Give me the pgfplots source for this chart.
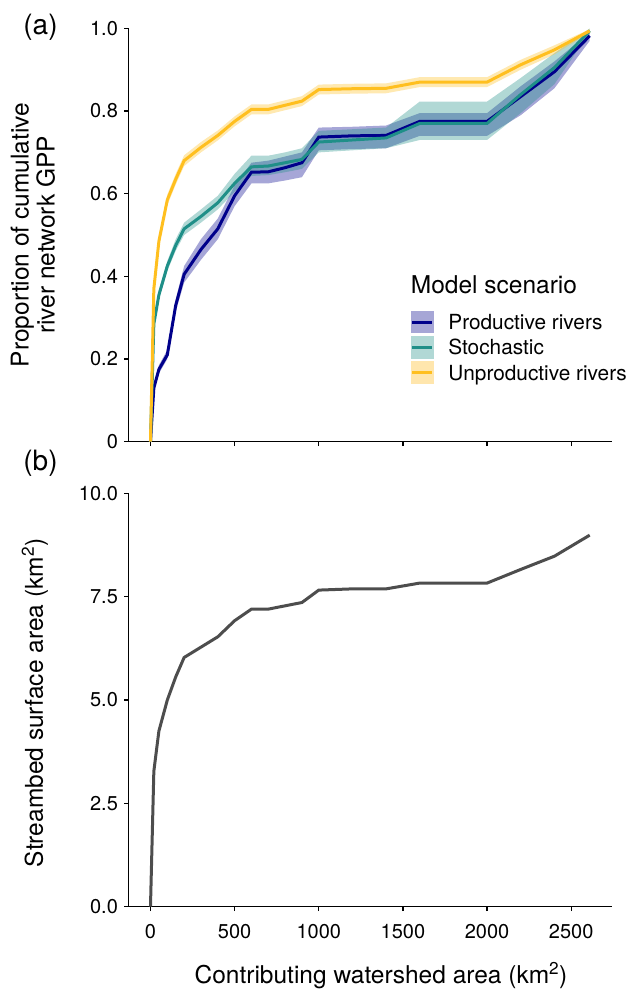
\documentclass[border=0pt]{standalone}
\usepackage{pgfplots}
\pgfplotsset{compat=1.18}
\usepackage{pgfplotstable}
\usepgfplotslibrary{fillbetween}
\usepackage{fontspec}
\setmainfont{TeX Gyre Heros}

\definecolor{prodline}{HTML}{00008B}
\definecolor{stochline}{HTML}{1F8F88}
\definecolor{unprodline}{HTML}{FFBF1F}
\definecolor{grayline}{HTML}{4D4D4D}
\definecolor{prodfill}{HTML}{A6A6D6}
\definecolor{stochfill}{HTML}{B1D8D5}
\definecolor{unprodfill}{HTML}{FFE6AD}

\pgfplotstableread{
x p plo phi s slo shi u ulo uhi a
0 0 0 0 0 0 0 0 0 0 0
20 0.13 0.12 0.14 0.285 0.275 0.295 0.37 0.355 0.385 3.28
50 0.175 0.165 0.185 0.355 0.345 0.367 0.485 0.47 0.50 4.25
100 0.21 0.20 0.222 0.425 0.413 0.437 0.585 0.572 0.598 5.00
150 0.33 0.315 0.345 0.475 0.462 0.49 0.635 0.622 0.648 5.56
200 0.405 0.385 0.425 0.515 0.50 0.53 0.68 0.667 0.693 6.03
300 0.465 0.44 0.49 0.545 0.53 0.562 0.712 0.70 0.725 6.28
400 0.515 0.49 0.54 0.578 0.562 0.595 0.741 0.729 0.753 6.53
500 0.595 0.57 0.62 0.625 0.605 0.648 0.775 0.763 0.787 6.92
600 0.652 0.625 0.675 0.665 0.643 0.692 0.804 0.792 0.816 7.20
700 0.653 0.625 0.68 0.667 0.645 0.692 0.804 0.792 0.816 7.20
800 0.663 0.632 0.69 0.675 0.652 0.70 0.814 0.802 0.826 7.28
900 0.675 0.64 0.70 0.683 0.66 0.71 0.824 0.812 0.836 7.36
1000 0.737 0.705 0.76 0.725 0.70 0.752 0.852 0.84 0.864 7.66
1200 0.74 0.708 0.762 0.73 0.705 0.756 0.854 0.842 0.866 7.69
1400 0.741 0.71 0.765 0.735 0.71 0.76 0.855 0.843 0.867 7.69
1600 0.775 0.74 0.795 0.77 0.73 0.823 0.87 0.858 0.882 7.83
1800 0.775 0.74 0.795 0.77 0.73 0.823 0.87 0.858 0.882 7.83
2000 0.775 0.74 0.795 0.77 0.73 0.823 0.87 0.858 0.882 7.83
2200 0.835 0.79 0.86 0.84 0.795 0.88 0.912 0.90 0.924 8.16
2400 0.895 0.855 0.92 0.905 0.865 0.94 0.948 0.937 0.959 8.48
2610 0.982 0.97 0.99 0.994 0.99 1.0 0.994 0.99 0.998 8.99
}\data

\pgfplotsset{myax/.style={
  scale only axis, width=483pt, height=413.3pt, anchor=south west,
  xmin=-130, xmax=2740,
  axis x line*=bottom, axis y line*=left,
  axis line style={line width=1.4pt, black},
  tick align=outside, major tick length=4.5pt,
  every tick/.style={black, line width=1.4pt},
  xtick={0,500,1000,1500,2000,2500},
  tick label style={font=\fontsize{20}{22}\selectfont, inner sep=0pt},
  /pgf/number format/assume math mode=true,
  clip=false,
}}

\begin{document}
\begin{tikzpicture}

% ---------- panel (a)
\begin{axis}[myax, at={(128.6pt,548.3pt)},
  ymin=0, ymax=1,
  ytick={0,0.2,0.4,0.6,0.8,1.0},
  yticklabels={0,0.2,0.4,0.6,0.8,1.0},
  xticklabels={},
  yticklabel style={anchor=east, xshift=-6pt},
  legend style={at={(0.584,0.320)}, anchor=north west, draw=none, fill=none,
    inner sep=0pt, outer sep=0pt, row sep=0pt,
    font=\fontsize{20.8}{22}\selectfont,
    nodes={inner sep=0pt, text height=15pt, text depth=0pt},
    /tikz/every odd column/.append style={column sep=14.6pt}},
  legend cell align=left,
]
\addplot[draw=none, name path=plo, forget plot] table[x=x,y=plo]{\data};
\addplot[draw=none, name path=phi, forget plot] table[x=x,y=phi]{\data};
\addplot[draw=none, name path=slo, forget plot] table[x=x,y=slo]{\data};
\addplot[draw=none, name path=shi, forget plot] table[x=x,y=shi]{\data};
\addplot[draw=none, name path=ulo, forget plot] table[x=x,y=ulo]{\data};
\addplot[draw=none, name path=uhi, forget plot] table[x=x,y=uhi]{\data};
\addplot[prodline, fill opacity=0.35, draw=none, forget plot] fill between[of=plo and phi];
\addplot[stochline, fill opacity=0.35, draw=none, forget plot] fill between[of=slo and shi];
\addplot[unprodline, fill opacity=0.35, draw=none, forget plot] fill between[of=ulo and uhi];
\addplot[prodline, line width=3pt, forget plot] table[x=x,y=p]{\data};
\addplot[stochline, line width=3pt, forget plot] table[x=x,y=s]{\data};
\addplot[unprodline, line width=3pt, forget plot] table[x=x,y=u]{\data};

\addlegendimage{legend image code/.code={
  \path[draw=none, fill=none] (0pt,-12.65pt) rectangle (22.7pt,12.65pt);
  \path[draw=none, fill=prodfill] (0pt,-11.35pt) rectangle (22.7pt,11.35pt);
  \path[draw=prodline, fill=none, line width=3pt] (1.3pt,0pt) -- (21.4pt,0pt);}}
\addlegendentry{Productive rivers}
\addlegendimage{legend image code/.code={
  \path[draw=none, fill=none] (0pt,-12.65pt) rectangle (22.7pt,12.65pt);
  \path[draw=none, fill=stochfill] (0pt,-11.35pt) rectangle (22.7pt,11.35pt);
  \path[draw=stochline, fill=none, line width=3pt] (1.3pt,0pt) -- (21.4pt,0pt);}}
\addlegendentry{Stochastic}
\addlegendimage{legend image code/.code={
  \path[draw=none, fill=none] (0pt,-12.65pt) rectangle (22.7pt,12.65pt);
  \path[draw=none, fill=unprodfill] (0pt,-11.35pt) rectangle (22.7pt,11.35pt);
  \path[draw=unprodline, fill=none, line width=3pt] (1.3pt,0pt) -- (21.4pt,0pt);}}
\addlegendentry{Unproductive rivers}
\end{axis}

% ---------- panel (b)
\begin{axis}[myax, at={(128.6pt,83.3pt)},
  ymin=0, ymax=10,
  ytick={0,2.5,5,7.5,10},
  yticklabels={0.0,2.5,5.0,7.5,10.0},
  xticklabels={0,500,1000,1500,2000,2500},
  yticklabel style={anchor=east, xshift=-6pt},
  xticklabel style={anchor=north, yshift=-13pt},
]
\addplot[grayline, line width=3pt] table[x=x,y=a]{\data};
\end{axis}

% ---------- texts
\node[anchor=base west, inner sep=0pt, font=\fontsize{24.5}{26}\selectfont] at (410.7pt,696pt) {Model scenario};
\node[anchor=center, inner sep=0pt, font=\fontsize{28}{30}\selectfont] at (40.5pt,963pt) {(a)};
\node[anchor=center, inner sep=0pt, font=\fontsize{28}{30}\selectfont] at (40.5pt,527pt) {(b)};
\node[rotate=90, anchor=center, align=center, inner sep=0pt, font=\fontsize{24.5}{26}\selectfont] at (33pt,755pt) {Proportion of cumulative\\river network GPP};
\node[rotate=90, anchor=center, inner sep=0pt, font=\fontsize{24.5}{26}\selectfont] at (35pt,287pt) {Streambed surface area (km\textsuperscript{2})};
\node[anchor=base, inner sep=0pt, font=\fontsize{24.5}{26}\selectfont] at (381pt,6.7pt) {Contributing watershed area (km\textsuperscript{2})};
\path (0pt,0pt) rectangle (632pt,990pt);
\end{tikzpicture}
\end{document}
